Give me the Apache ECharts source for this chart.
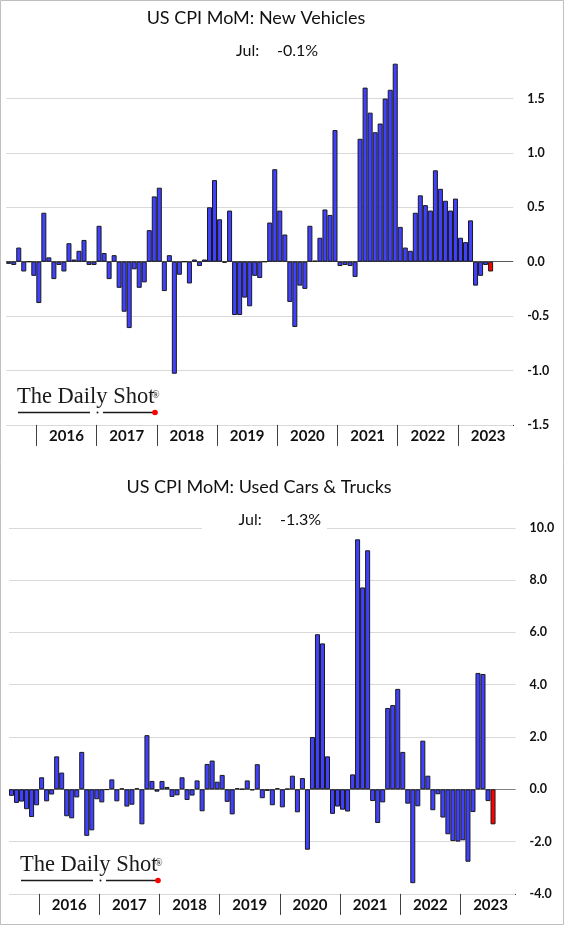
<!DOCTYPE html>
<html>
<head>
<meta charset="utf-8">
<script src="https://cdn.jsdelivr.net/npm/echarts@6/dist/echarts.min.js"></script>
<style>
html,body{margin:0;padding:0;background:#fff;}
#chart{width:564px;height:925px;}
</style>
</head>
<body>
<div id="chart"></div>
<script>
// ---- Data (monthly, Jul 2015 .. Jul 2023) ----
const startYear = 2015, startMonth = 7, totalMonths = 101; // axis runs to Nov 2023
const categories = [];
for (let k = 0; k < totalMonths; k++) {
  const m = startMonth - 1 + k;
  const y = startYear + Math.floor(m / 12);
  const mm = (m % 12) + 1;
  categories.push(y + '-' + (mm < 10 ? '0' + mm : '' + mm));
}
const yearLabels = ['2016','2017','2018','2019','2020','2021','2022','2023'];

const newVehicles = [
  -0.02,-0.03,0.13,-0.09,0.00,-0.13,
  -0.38,0.45,0.04,-0.16,-0.03,-0.09,0.17,0.02,0.10,0.20,-0.03,-0.03,
  0.33,0.08,-0.16,0.06,-0.24,-0.46,-0.61,-0.07,-0.24,-0.19,0.29,0.60,
  0.68,-0.27,0.06,-1.03,-0.12,0.00,-0.20,0.02,-0.04,0.02,0.50,0.75,
  0.39,-0.01,0.47,-0.49,-0.49,-0.33,-0.41,-0.13,-0.15,0.00,0.36,0.85,
  0.47,0.25,-0.37,-0.60,-0.22,-0.25,0.33,0.01,0.22,0.48,0.43,1.21,
  -0.04,-0.03,-0.04,-0.14,1.13,1.60,1.37,1.19,1.27,1.50,1.58,1.82,
  0.32,0.13,0.10,0.45,0.61,0.52,0.47,0.84,0.67,0.56,0.47,0.58,
  0.22,0.18,0.38,-0.22,-0.13,-0.03,-0.09
];
const usedCars = [
  -0.25,-0.52,-0.47,-0.76,-1.06,-0.61,
  0.46,-0.46,-0.20,1.26,0.64,-1.03,-1.11,-0.31,1.43,-1.78,-1.57,-0.38,
  -0.50,-0.02,0.38,-0.46,0.03,-0.66,-0.59,0.04,-1.34,2.07,0.32,-0.09,
  0.32,0.09,-0.29,-0.23,0.46,-0.41,-0.24,0.34,-0.84,0.97,1.10,0.29,
  0.55,-0.48,-0.96,0.04,0.01,0.34,-0.04,0.96,-0.34,-0.06,-0.61,0.04,
  -0.69,0.02,0.52,-0.88,0.43,-2.31,2.00,5.93,5.58,1.26,-0.94,-0.66,
  -0.78,-0.85,0.57,9.56,7.72,9.14,-0.45,-1.29,-0.50,3.11,3.22,3.84,
  1.43,-0.55,-3.59,-0.65,1.86,0.52,-0.80,-0.19,-1.08,-1.72,-1.98,-2.00,
  -1.95,-2.77,-0.87,4.45,4.41,-0.45,-1.34
];
const titles = ['US CPI MoM: New Vehicles', 'US CPI MoM: Used Cars & Trucks'];
const latestLabel = 'Jul:';
const latestValues = ['-0.1%', '-1.3%'];

// ---- Styling ----
const BAR = '#4040FF', LAST = '#FF0000', EDGE = '#1a1a1a';
const GRID = '#d9d9d9';
const FONT = 'Lato, "Open Sans", sans-serif';

function barData(arr) {
  return arr.map((v, i) => i === arr.length - 1
    ? { value: v, itemStyle: { color: LAST } }
    : v);
}

function xAxis(gi) {
  return {
    type: 'category', gridIndex: gi, data: categories,
    axisLine: { show: false, onZero: false },
    axisTick: {
      show: true, length: 21,
      interval: (i, v) => v.endsWith('-01'),
      lineStyle: { color: '#404040', width: 1 }
    },
    axisLabel: {
      interval: (i, v) => v.endsWith('-07') && yearLabels.indexOf(v.slice(0, 4)) >= 0,
      formatter: v => v.slice(0, 4),
      fontFamily: FONT, fontWeight: 'bold', fontSize: 15, color: '#111',
      margin: 4, padding: [0, 5, 0, 0]
    },
    splitLine: { show: false }
  };
}

function yAxis(gi, min, max, interval, colors, showMax, hideAbove) {
  return {
    type: 'value', gridIndex: gi, position: 'right',
    min: min, max: max, interval: interval,
    axisLine: { show: false }, axisTick: { show: false },
    axisLabel: {
      formatter: v => (hideAbove !== null && v > hideAbove) ? '' : v.toFixed(1),
      fontFamily: FONT, fontWeight: 'bold', fontSize: 12.5, color: '#111', margin: 14
    },
    splitLine: { show: true, showMaxLine: showMax, lineStyle: { color: colors, width: 1 } }
  };
}

const topColors = [GRID, GRID, GRID, '#595959', GRID, GRID, GRID, 'rgba(0,0,0,0)'];
const botColors = [GRID, GRID, '#808080', GRID, GRID, GRID, GRID, GRID];

function logo(dx, dy) {
  return {
    type: 'group', x: dx, y: dy, z: 20,
    children: [
      { type: 'text', style: { text: 'The Daily Shot', x: 17, y: 409, font: '22.5px "Liberation Serif", serif', fill: '#1a1a1a', textVerticalAlign: 'bottom', verticalAlign: 'bottom' } },
      { type: 'text', style: { text: '®', x: 152, y: 400, font: '10px "Liberation Serif", serif', fill: '#1a1a1a', textVerticalAlign: 'bottom', verticalAlign: 'bottom' } },
      { type: 'line', shape: { x1: 18, y1: 412.5, x2: 90, y2: 412.5 }, style: { stroke: '#1a1a1a', lineWidth: 1.3 } },
      { type: 'line', shape: { x1: 103, y1: 412.5, x2: 154, y2: 412.5 }, style: { stroke: '#1a1a1a', lineWidth: 1.3 } },
      { type: 'circle', shape: { cx: 97.5, cy: 412.5, r: 1 }, style: { fill: '#1a1a1a' } },
      { type: 'circle', shape: { cx: 155, cy: 412.5, r: 2.8 }, style: { fill: '#FF0000' } }
    ]
  };
}

function txt(t, x, y, size, align) {
  return { type: 'text', z: 30, style: { text: t, x: x, y: y, font: size + 'px ' + FONT, fill: '#111',
    textAlign: align, align: align, textVerticalAlign: 'middle', verticalAlign: 'middle' } };
}

const chart = echarts.init(document.getElementById('chart'), null, { renderer: 'canvas' });
chart.setOption({
  animation: false,
  backgroundColor: '#fff',
  grid: [
    { left: 6.2, top: 44.1, width: 507, height: 380.8 },
    { left: 9, top: 527.8, width: 506.6, height: 366.1 }
  ],
  xAxis: [xAxis(0), xAxis(1)],
  yAxis: [
    yAxis(0, -1.5, 2.0, 0.5, topColors, false, 1.75),
    yAxis(1, -4, 10, 2, botColors, true, null)
  ],
  series: [
    { type: 'bar', xAxisIndex: 0, yAxisIndex: 0, data: barData(newVehicles),
      barCategoryGap: '0%', itemStyle: { color: BAR, borderColor: EDGE, borderWidth: 1 } },
    { type: 'bar', xAxisIndex: 1, yAxisIndex: 1, data: barData(usedCars),
      barCategoryGap: '0%', itemStyle: { color: BAR, borderColor: EDGE, borderWidth: 1 } }
  ],
  graphic: [
    { type: 'rect', z: 1, shape: { x: 0.5, y: 0.5, width: 563, height: 924 }, style: { fill: 'none', stroke: '#bfbfbf', lineWidth: 1 } },
    // mask the closing tick that ECharts adds at the axis end (not in the reference)
    { type: 'rect', z: 25, shape: { x: 510, y: 426, width: 9, height: 22 }, style: { fill: '#fff' } },
    { type: 'rect', z: 25, shape: { x: 513, y: 895, width: 9, height: 22 }, style: { fill: '#fff' } },
    txt(titles[0], 256, 18, 18, 'center'),
    txt(latestLabel, 236, 51, 16, 'left'),
    txt(latestValues[0], 277, 51, 16, 'left'),
    { type: 'rect', z: 25, shape: { x: 202, y: 510, width: 125, height: 21 }, style: { fill: '#fff' } },
    txt(titles[1], 259, 487, 18, 'center'),
    txt(latestLabel, 238.5, 520, 16, 'left'),
    txt(latestValues[1], 280, 520, 16, 'left'),
    logo(0, 0),
    logo(3, 468)
  ]
});
</script>
</body>
</html>
